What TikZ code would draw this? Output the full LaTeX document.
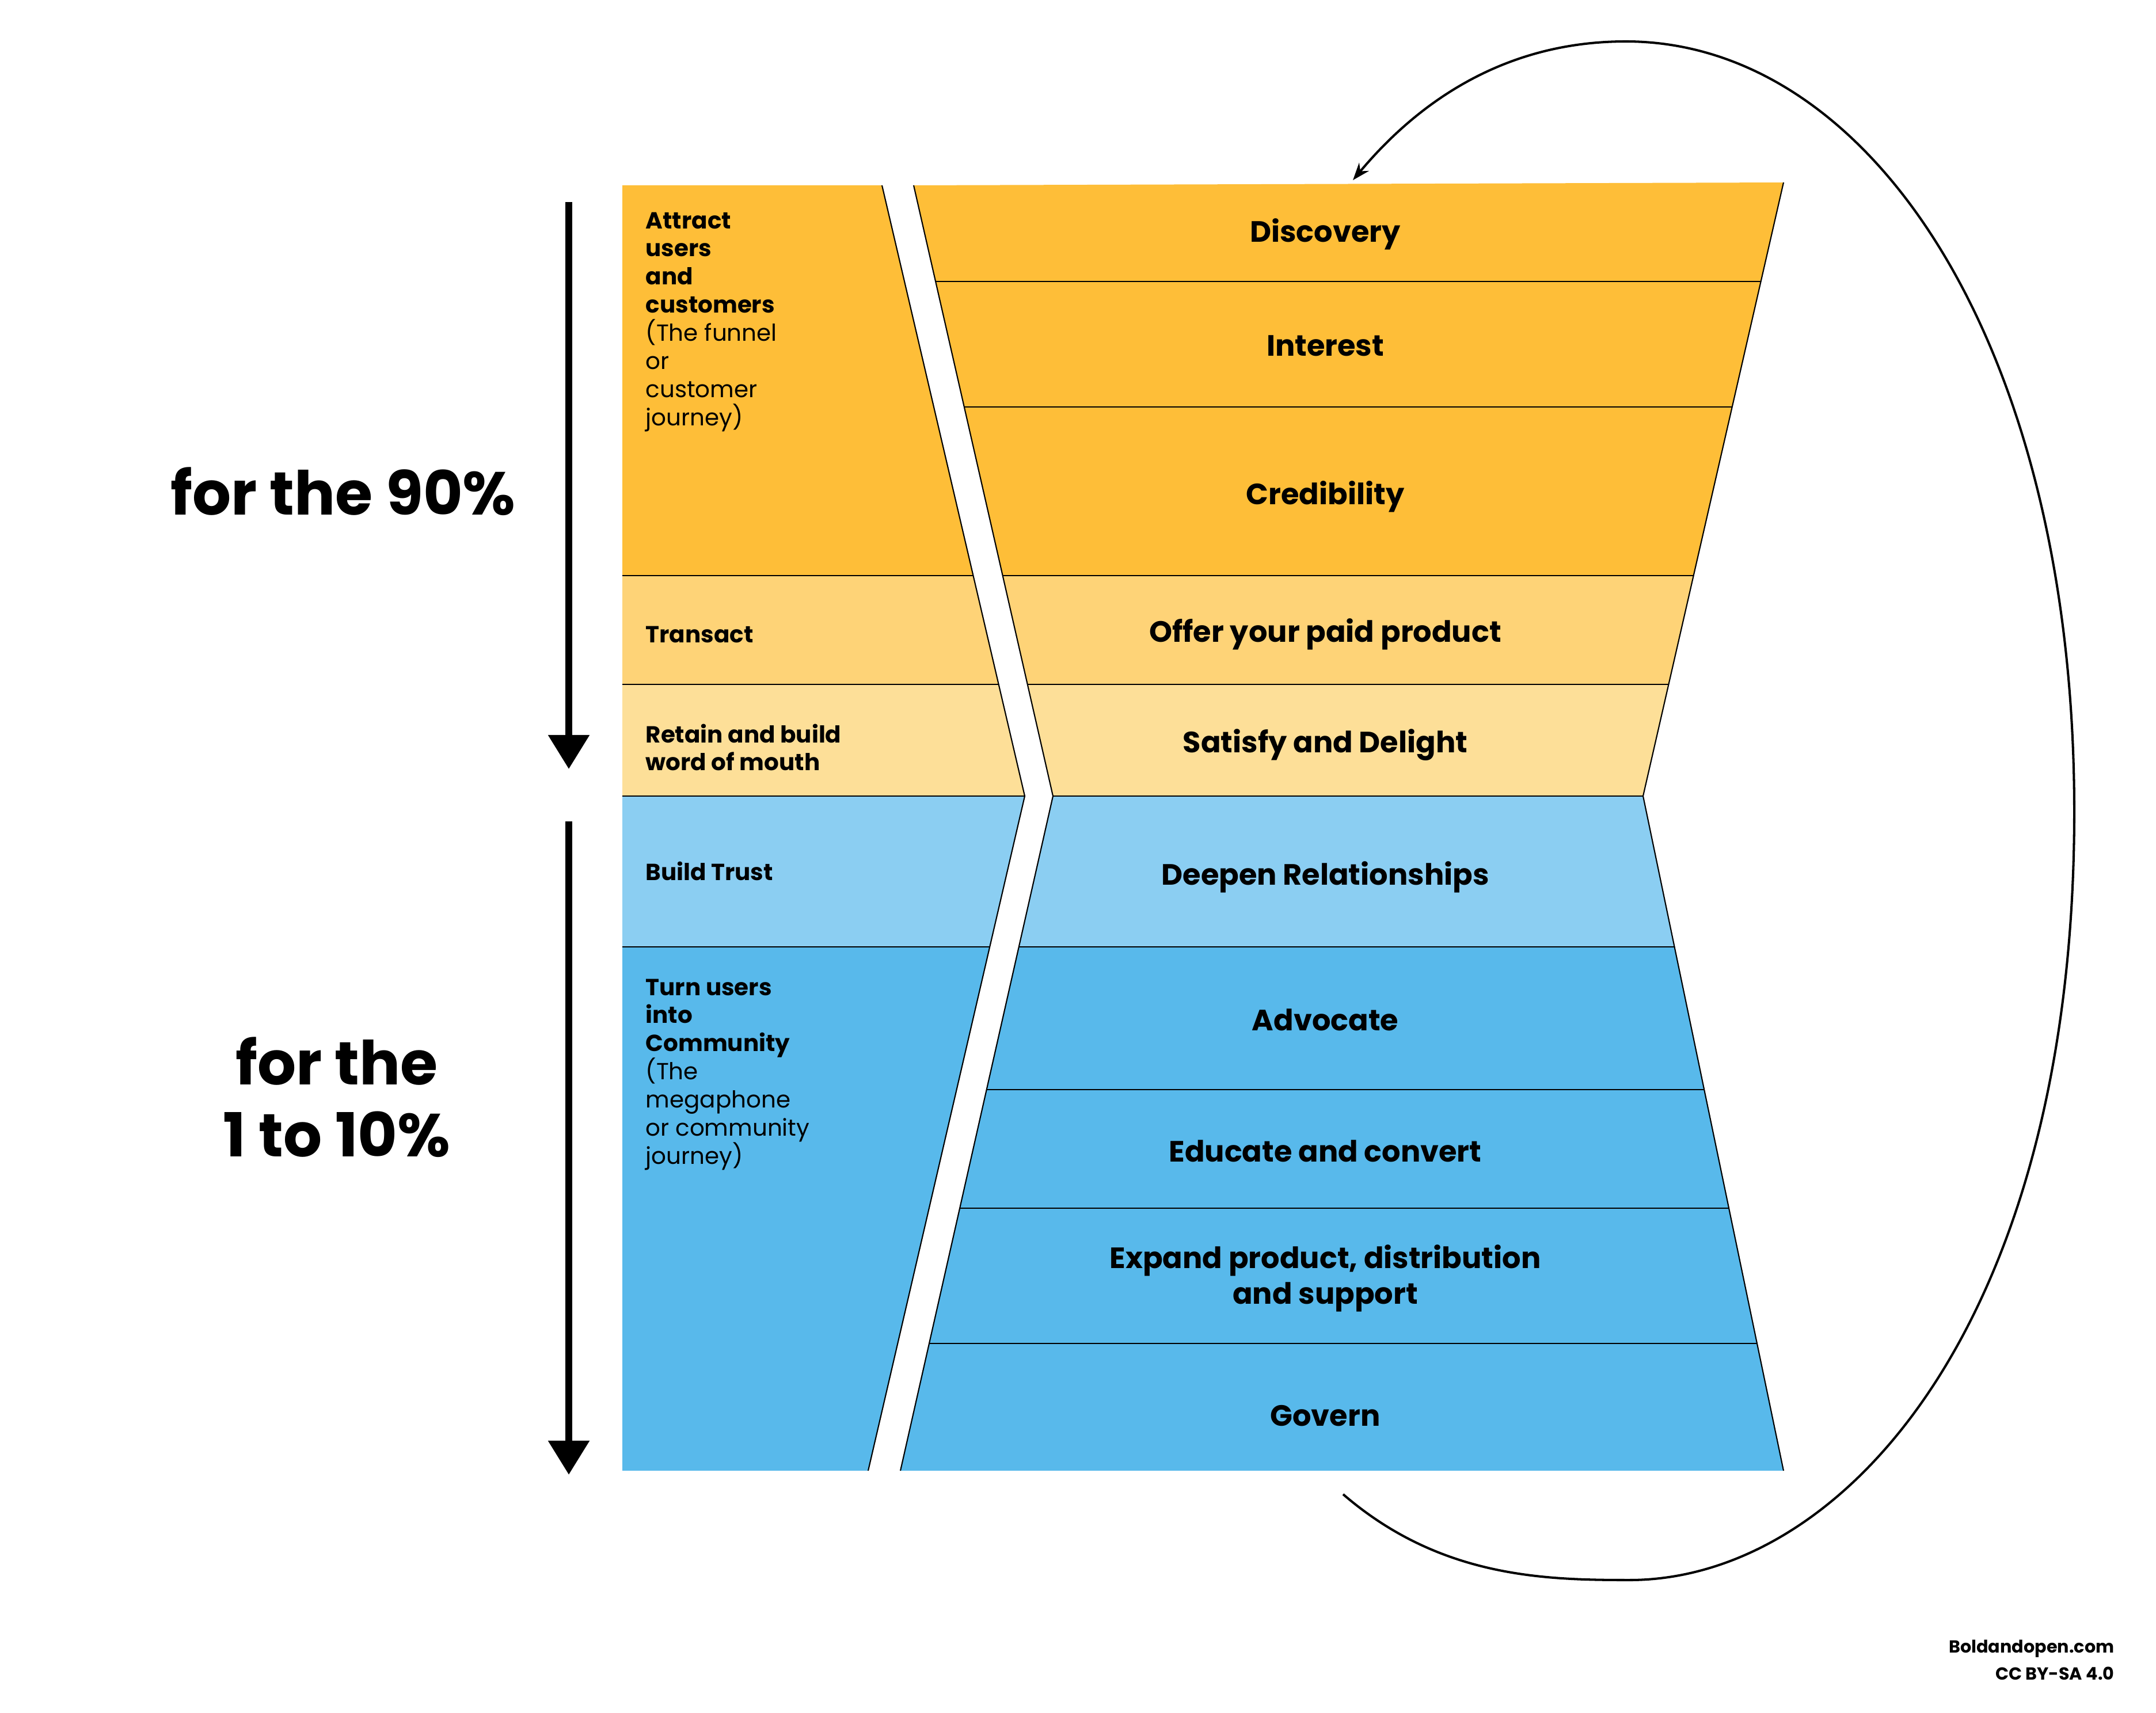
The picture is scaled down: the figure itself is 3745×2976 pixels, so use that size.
\documentclass[tikz,border=0pt]{standalone}
\usepackage{fontspec}
\setmainfont{Poppins}
\usetikzlibrary{arrows.meta}
\definecolor{yA}{HTML}{FEBE38}
\definecolor{yB}{HTML}{FED377}
\definecolor{yC}{HTML}{FDDF98}
\definecolor{bA}{HTML}{8BCEF2}
\definecolor{bB}{HTML}{58B9EB}
\tikzset{
  sepline/.style={draw=black, line width=0.4pt},
  edgeline/.style={draw=black, line width=0.6pt},
  lefttxt/.style={anchor=north west, inner sep=0pt, align=left, font=\fontsize{11.5}{13.9}\selectfont},
  stagetxt/.style={anchor=base, inner sep=0pt, font=\bfseries\fontsize{14.5}{17.6}\selectfont},
  bigtxt/.style={inner sep=0pt, align=center, font=\bfseries\fontsize{30}{35.4}\selectfont},
  foottxt/.style={anchor=base east, inner sep=0pt, font=\bfseries\fontsize{8.6}{11}\selectfont},
  downarrow/.style={line width=0.12cm, -{Triangle[length=0.59cm,width=0.69cm]}},
  looparrow/.style={line width=1.15pt, -{Stealth[length=0.3cm,width=0.22cm]}}
}
\begin{document}
\begin{tikzpicture}[x=0.01cm,y=-0.01cm]
\useasboundingbox (0,0) rectangle (3745,2976);
% bands clipped to the two shapes
\begin{scope}
\clip (1081,322) -- (1532,322) -- (1780,1383) -- (1508,2555) -- (1081,2555) -- cycle
      (1587,322) -- (3098,317) -- (2854,1383) -- (3098,2555) -- (1564,2555) -- (1829,1383) -- cycle;
\fill[yA] (1000,300) rectangle (3200,1000);
\fill[yB] (1000,1000) rectangle (3200,1189);
\fill[yC] (1000,1189) rectangle (3200,1383);
\fill[bA] (1000,1383) rectangle (3200,1645);
\fill[bB] (1000,1645) rectangle (3200,2600);
\draw[sepline] (1600,489) -- (3200,489);
\draw[sepline] (1650,707) -- (3200,707);
\draw[sepline] (1000,1000) -- (3200,1000);
\draw[sepline] (1000,1189) -- (3200,1189);
\draw[sepline] (1000,1383) -- (3200,1383);
\draw[sepline] (1000,1645) -- (3200,1645);
\draw[sepline] (1690,1893) -- (3200,1893);
\draw[sepline] (1640,2099) -- (3200,2099);
\draw[sepline] (1590,2334) -- (3200,2334);
\end{scope}
% outlines
\draw[edgeline] (1532,322) -- (1780,1383) -- (1508,2555);
\draw[edgeline] (1587,322) -- (1829,1383) -- (1564,2555);
\draw[edgeline] (3098,317) -- (2854,1383) -- (3098,2555);
% left column labels
\node[lefttxt] (attract) at (1121,368) {\textbf{Attract}\\\textbf{users}\\\textbf{and}\\\textbf{customers}\\(The funnel\\or\\customer\\journey)};
\node[lefttxt, anchor=west] (transact) at (1121,1102) {\textbf{Transact}};
\node[lefttxt] (retain) at (1121,1257) {\textbf{Retain and build}\\\textbf{word of mouth}};
\node[lefttxt, anchor=west] (trust) at (1121,1513) {\textbf{Build Trust}};
\node[lefttxt] (turn) at (1121,1700) {\textbf{Turn users}\\\textbf{into}\\\textbf{Community}\\(The\\megaphone\\or community\\journey)};
% stage labels
\node[stagetxt] (discovery) at (2302,421) {Discovery};
\node[stagetxt] (interest) at (2302,618) {Interest};
\node[stagetxt] (credibility) at (2302,876) {Credibility};
\node[stagetxt] (offer) at (2302,1115) {Offer your paid product};
\node[stagetxt] (satisfy) at (2302,1307) {Satisfy and Delight};
\node[stagetxt] (deepen) at (2302,1537) {Deepen Relationships};
\node[stagetxt] (advocate) at (2302,1790) {Advocate};
\node[stagetxt] (educate) at (2302,2018) {Educate and convert};
\node[stagetxt, anchor=center, align=center] (expand) at (2302,2221) {Expand product, distribution\\and support};
\node[stagetxt] (govern) at (2302,2477) {Govern};
% big side labels
\node[bigtxt] (ninety) at (596,854) {for the 90\%};
\node[bigtxt] (ten) at (585,1906) {for the\\1 to 10\%};
% vertical arrows
\coordinate (a1s) at (988,351);
\coordinate (a1e) at (988,1336);
\coordinate (a2s) at (988,1427);
\coordinate (a2e) at (988,2562);
\draw[downarrow] (a1s) -- (a1e);
\draw[downarrow] (a2s) -- (a2e);
% loop back arrow
\coordinate (loopstart) at (2333,2596);
\coordinate (loopend) at (2350,313);
\draw[looparrow] (loopstart) .. controls (2500,2740) and (2680,2745) .. (2830,2745)
  .. controls (3200,2745) and (3603,2300) .. (3603,1410)
  .. controls (3603,600) and (3250,72) .. (2824,72)
  .. controls (2600,72) and (2452,191) .. (loopend);
% footer
\node[foottxt] (site) at (3673,2871) {Boldandopen.com};
\node[foottxt] (lic) at (3673,2918) {CC BY-SA 4.0};
\end{tikzpicture}
\end{document}
